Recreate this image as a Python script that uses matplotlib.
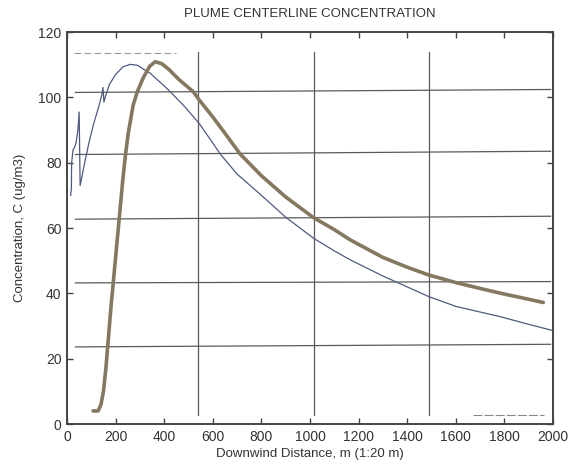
import matplotlib
matplotlib.use("Agg")
import matplotlib.pyplot as plt

plt.rcParams['font.family'] = ['Liberation Sans', 'DejaVu Sans']

# Thin (blue-grey) curve
blue_x = [15, 18, 19, 25, 30, 37, 45, 50, 54, 70, 90, 110, 130, 144, 148, 152, 157, 175,
          200, 230, 260, 290, 342, 400, 425, 480, 544, 600, 631, 700, 800, 900, 1014,
          1100, 1167, 1300, 1489, 1600, 1786, 1900, 2000]
blue_y = [70, 72, 80, 84, 84.5, 86, 90, 95.5, 73, 79, 86, 92, 97, 101, 103, 98.5, 100, 104,
          107, 109.3, 110.1, 109.8, 107.4, 103.5, 101.7, 97.5, 92, 86, 82.6, 76.5, 70, 63.3, 56.9,
          53, 50.2, 45.3, 39, 36, 32.8, 30.5, 28.6]

# Thick (brown) curve
brown_x = [107, 128, 140, 150, 160, 170, 180, 190, 200, 210, 220, 230, 240, 252, 272, 289,
           314, 340, 363, 390, 420, 460, 520, 544, 600, 650, 713, 800, 900, 1014, 1100,
           1167, 1300, 1400, 1489, 1600, 1700, 1786, 1880, 1960]
brown_y = [4, 4, 6, 10, 17, 26, 35, 43, 51, 59, 67, 75, 82, 89, 97.5, 101.7,
           106, 109.5, 110.9, 110.3, 108.5, 105.5, 101.7, 99.2, 94, 89, 82.6, 76, 69.5, 63.2, 59.5,
           56.3, 51, 48, 45.6, 43.3, 41.5, 40, 38.5, 37.2]

# Scanned graph-paper lines (left value, right value)
hgrid_left = [101.5, 82.5, 62.7, 43.2, 23.6]
hgrid_right = [102.4, 83.5, 63.6, 43.6, 24.4]
hgrid_x = [35, 1990]
vgrid_x = [540, 1015, 1490]
vgrid_y = [2.7, 113.9]

# faint dashed marks
top_dash_x = [30, 450]
top_dash_y = [113.7, 113.7]
bot_dash_x = [1670, 1963]
bot_dash_y = [2.7, 2.7]

x_ticks = list(range(0, 2001, 200))
y_ticks = list(range(0, 121, 20))

fig = plt.figure(figsize=(5.71, 4.68), dpi=100)
ax = fig.add_axes([67/571, 44/468, (553-67)/571, (424-32)/468])

grid_c = '#5a5a5a'
for yl, yr in zip(hgrid_left, hgrid_right):
    ax.plot(hgrid_x, [yl, yr], color=grid_c, lw=0.9, zorder=1)
for xv in vgrid_x:
    ax.plot([xv, xv], vgrid_y, color=grid_c, lw=0.9, zorder=1)

ax.plot(top_dash_x, top_dash_y, color='#999999', lw=0.8, ls=(0, (6, 3)), zorder=1)
ax.plot(bot_dash_x, bot_dash_y, color='#888888', lw=0.8, ls=(0, (8, 2)), zorder=1)

ax.plot(blue_x, blue_y, color='#4f5b7e', lw=0.9, zorder=3)
ax.plot(brown_x, brown_y, color='#857860', lw=2.6, zorder=4, solid_capstyle='round')

ax.set_xlim(0, 2000)
ax.set_ylim(0, 120)
ax.set_xticks(x_ticks)
ax.set_yticks(y_ticks)
ax.tick_params(direction='in', top=True, right=True, length=4, width=1,
               color='#444444', labelsize=10, labelcolor='#333333', pad=4)
for s in ax.spines.values():
    s.set_color('#444444')
    s.set_linewidth(1.4)

ax.set_title('PLUME CENTERLINE CONCENTRATION', fontsize=9.5, color='#333333', pad=11)
ax.set_xlabel('Downwind Distance, m (1:20 m)', fontsize=9.5, color='#333333', labelpad=3)
ax.set_ylabel('Concentration, C (ug/m3)', fontsize=9.5, color='#333333', labelpad=9)

fig.savefig('out.png', dpi=100)
